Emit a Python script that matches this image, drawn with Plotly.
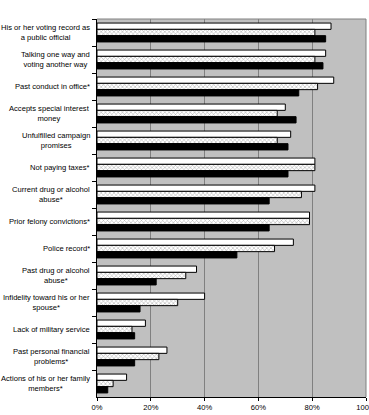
import plotly.graph_objects as go

categories = [
    "His or her voting record as<br>a public official",
    "Talking one way and<br>voting another way",
    "Past conduct in office*",
    "Accepts special interest<br>money",
    "Unfulfilled campaign<br>promises",
    "Not paying taxes*",
    "Current drug or alcohol<br>abuse*",
    "Prior felony convictions*",
    "Police record*",
    "Past drug or alcohol<br>abuse*",
    "Infidelity toward his or her<br>spouse*",
    "Lack of military service",
    "Past personal financial<br>problems*",
    "Actions of his or her family<br>members*",
]
series_white = [87, 85, 88, 70, 72, 81, 81, 79, 73, 37, 40, 18, 26, 11]
series_dotted = [81, 81, 82, 67, 67, 81, 76, 79, 66, 33, 30, 13, 23, 6]
series_black = [85, 84, 75, 74, 71, 71, 64, 64, 52, 22, 16, 14, 14, 4]
tick_vals = [0, 20, 40, 60, 80, 100]
tick_text = ["0%", "20%", "40%", "60%", "80%", "100%"]

fig = go.Figure()
fig.add_trace(go.Bar(y=categories, x=series_white, orientation="h", name="A",
                     marker=dict(color="white", line=dict(color="black", width=1))))
fig.add_trace(go.Bar(y=categories, x=series_dotted, orientation="h", name="B",
                     marker=dict(color="white", line=dict(color="black", width=1),
                                 pattern=dict(shape="x", size=3, solidity=0.3,
                                              fgcolor="#444444", bgcolor="white",
                                              fillmode="overlay"))))
fig.add_trace(go.Bar(y=categories, x=series_black, orientation="h", name="C",
                     marker=dict(color="black", line=dict(color="black", width=1))))

fig.update_layout(
    width=369, height=415,
    margin=dict(l=97, r=3, t=19, b=18, autoexpand=False),
    barmode="group", bargap=0.3, bargroupgap=0,
    showlegend=False,
    plot_bgcolor="#C0C0C0", paper_bgcolor="white",
    font=dict(family="Liberation Sans, Arial, sans-serif", size=7.6, color="black"),
)
fig.update_xaxes(range=[0, 100], tickvals=tick_vals, ticktext=tick_text,
                 showgrid=True, gridcolor="#808080", gridwidth=1,
                 showline=True, linecolor="black", linewidth=1,
                 ticks="outside", ticklen=3, tickcolor="black", zeroline=False,
                 ticklabeloverflow="allow", automargin=False)
fig.update_yaxes(autorange="reversed", showline=True, linecolor="black", linewidth=1,
                 ticks="outside", tickson="boundaries", ticklen=4, tickcolor="black",
                 showgrid=False, showticklabels=False, automargin=False)
for c in categories:
    fig.add_annotation(x=0, xref="paper", y=c, yref="y", text=c, showarrow=False,
                       xanchor="right", align="center", xshift=-5,
                       font=dict(size=7.6, color="black"))
fig.add_shape(type="line", xref="paper", yref="paper", x0=0, x1=1, y0=1, y1=1,
              line=dict(color="#808080", width=1))
fig.add_shape(type="line", xref="paper", yref="paper", x0=1, x1=1, y0=0, y1=1,
              line=dict(color="#808080", width=1))

fig.write_html("out.html")
